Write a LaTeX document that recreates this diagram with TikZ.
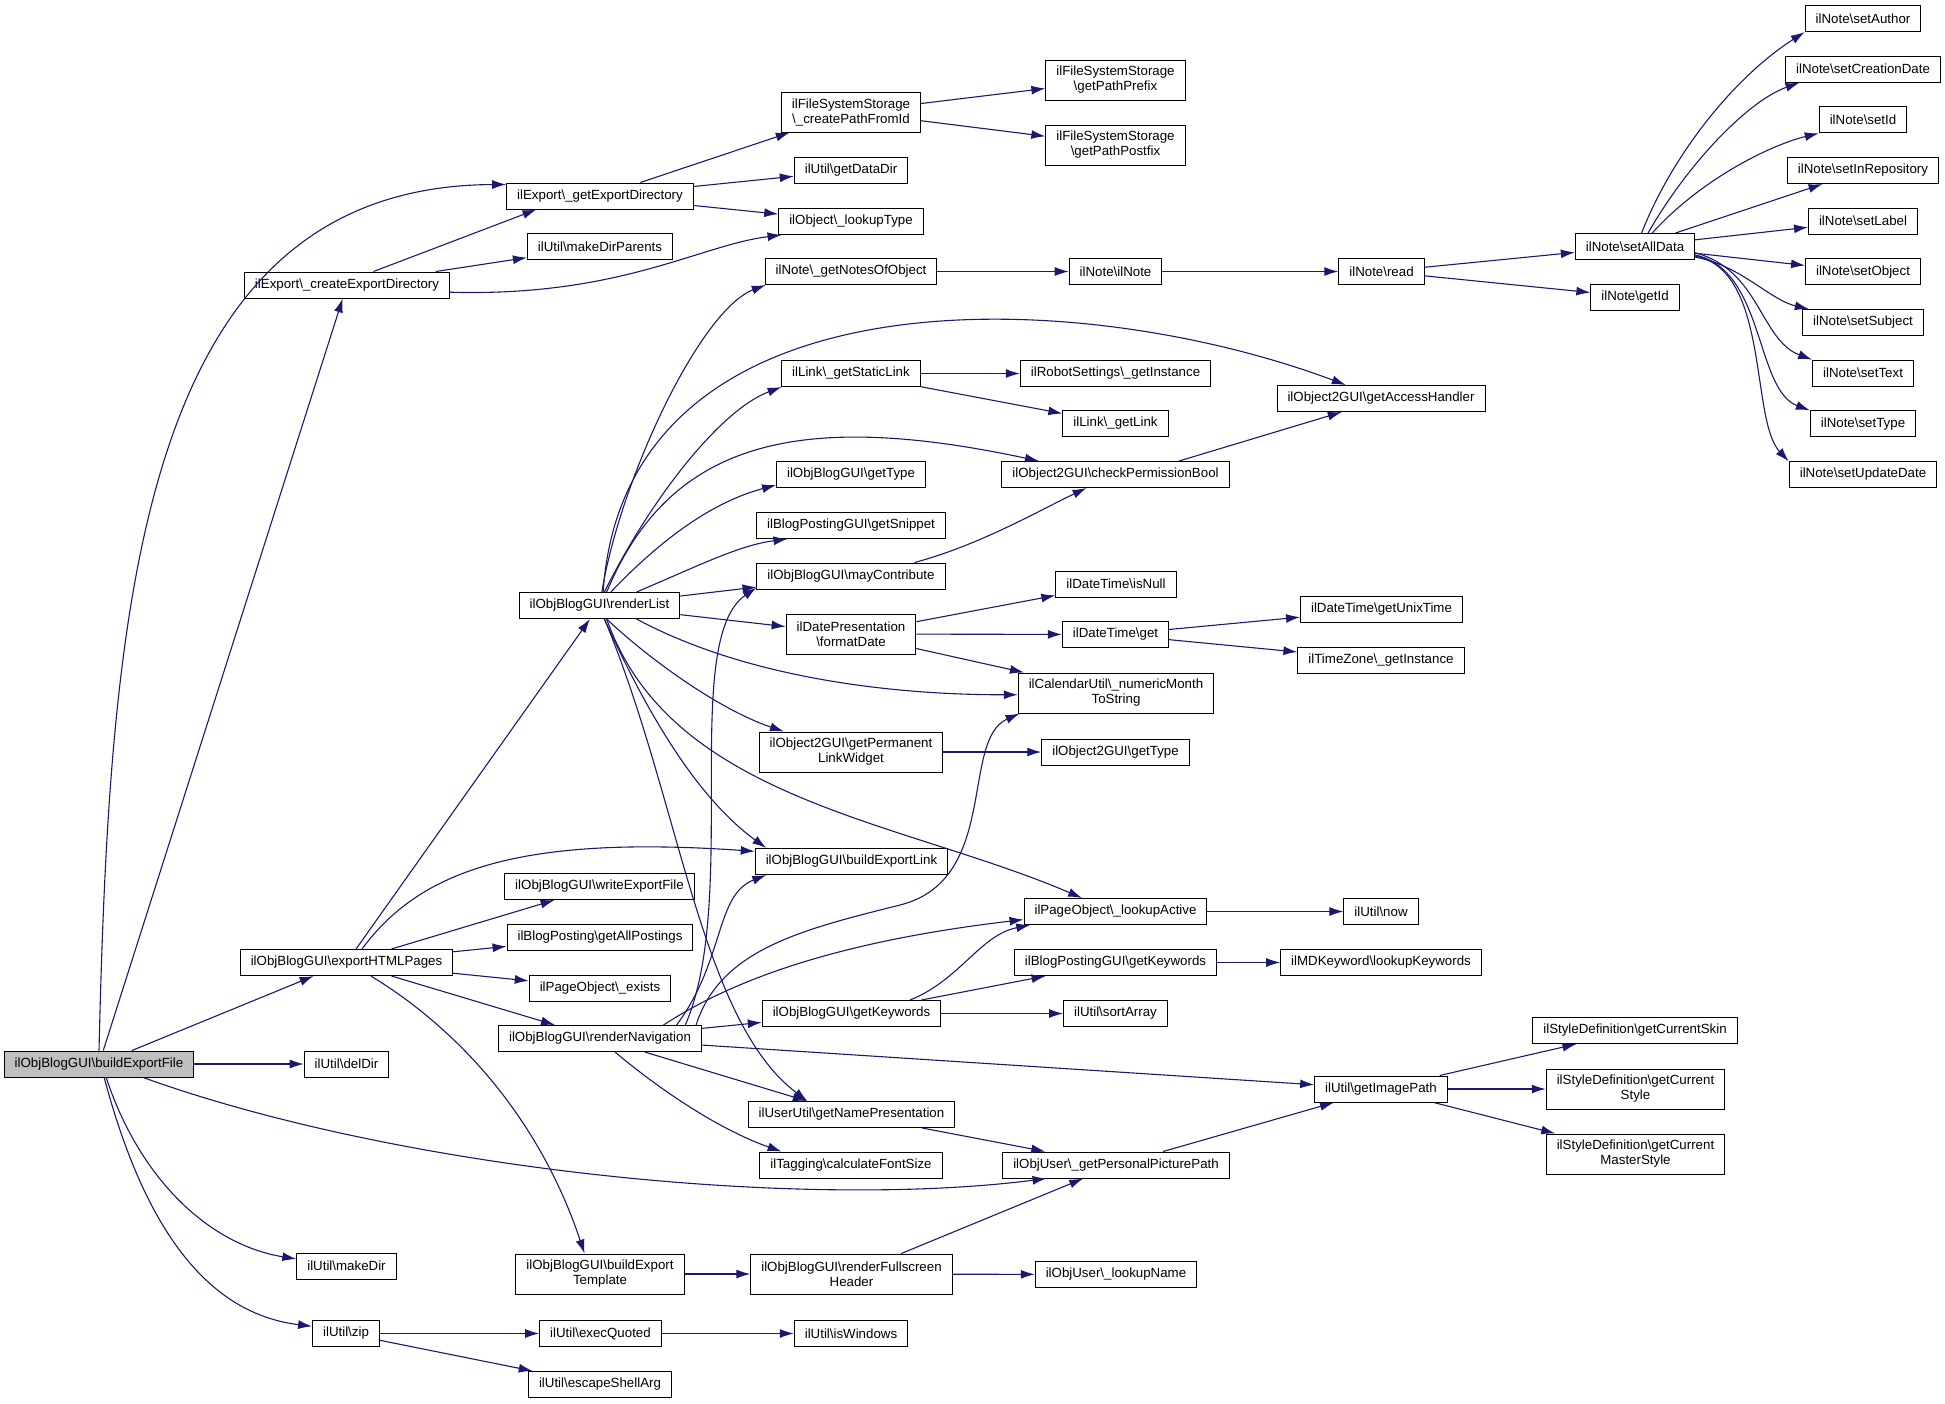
\documentclass[tikz,border=0pt]{standalone}
\usepackage{fontspec}
\setmainfont{Liberation Sans}
\usetikzlibrary{arrows.meta}
\definecolor{edgeblue}{HTML}{191970}
\newcommand{\ns}{\textbackslash}

\begin{document}
\begin{tikzpicture}[x=1pt,y=-1pt,>={Latex[length=14pt,width=9pt]}]
        \tikzstyle{fn}=[rectangle, draw=black, line width=1pt, fill=white, font=\fontsize{13.3}{15}\selectfont, inner xsep=10.5pt, inner ysep=3pt, minimum height=26pt, align=center]
        \tikzstyle{fntwo}=[fn, minimum height=40pt]
        \tikzstyle{root}=[fn, fill=black!25]
        \tikzstyle{call}=[->, draw=edgeblue, line width=1.1pt]
        \useasboundingbox (0,0) rectangle (1945,1403);
        % column 1 and 2
        \node[root] (bef) at (99,1064) {ilObjBlogGUI\ns buildExportFile};
        \node[fn] (ced) at (347,285) {ilExport\ns\_createExportDirectory};
        \node[fn] (ehp) at (346.5,962.5) {ilObjBlogGUI\ns exportHTMLPages};
        \node[fn] (dd) at (346.5,1064) {ilUtil\ns delDir};
        \node[fn] (md) at (346.5,1266) {ilUtil\ns makeDir};
        \node[fn] (zip) at (346,1333.5) {ilUtil\ns zip};
        % column 3
        \node[fn] (ged) at (600,196) {ilExport\ns\_getExportDirectory};
        \node[fn] (mdp) at (600,246.5) {ilUtil\ns makeDirParents};
        \node[fn] (rl) at (599.5,605.5) {ilObjBlogGUI\ns renderList};
        \node[fn] (wef) at (599.5,886.5) {ilObjBlogGUI\ns writeExportFile};
        \node[fn] (gap) at (600,937) {ilBlogPosting\ns getAllPostings};
        \node[fn] (ex) at (600,988) {ilPageObject\ns\_exists};
        \node[fn] (rn) at (600,1038.5) {ilObjBlogGUI\ns renderNavigation};
        \node[fntwo] (bet) at (600,1274) {ilObjBlogGUI\ns buildExport\\Template};
        \node[fn] (eq) at (600.5,1333.5) {ilUtil\ns execQuoted};
        \node[fn] (esa) at (600,1384.5) {ilUtil\ns escapeShellArg};
        % column 4
        \node[fntwo] (cpf) at (851,112) {ilFileSystemStorage\\\ns\_createPathFromId};
        \node[fn] (gdd) at (851,170.5) {ilUtil\ns getDataDir};
        \node[fn] (lt) at (851,221.5) {ilObject\ns\_lookupType};
        \node[fn] (gno) at (851,271.5) {ilNote\ns\_getNotesOfObject};
        \node[fn] (gsl) at (851,373.5) {ilLink\ns\_getStaticLink};
        \node[fn] (gt) at (851,474.5) {ilObjBlogGUI\ns getType};
        \node[fn] (gs) at (851,525.5) {ilBlogPostingGUI\ns getSnippet};
        \node[fn] (mc) at (851,576) {ilObjBlogGUI\ns mayContribute};
        \node[fntwo] (fd) at (851,634) {ilDatePresentation\\\ns formatDate};
        \node[fntwo] (plw) at (851,752) {ilObject2GUI\ns getPermanent\\LinkWidget};
        \node[fn] (bel) at (851.5,861.5) {ilObjBlogGUI\ns buildExportLink};
        \node[fn] (gk) at (851.5,1013.5) {ilObjBlogGUI\ns getKeywords};
        \node[fn] (gnp) at (851.5,1114.5) {ilUserUtil\ns getNamePresentation};
        \node[fn] (tfs) at (851,1165) {ilTagging\ns calculateFontSize};
        \node[fntwo] (rfh) at (851.5,1274) {ilObjBlogGUI\ns renderFullscreen\\Header};
        \node[fn] (iw) at (851,1333.5) {ilUtil\ns isWindows};
        % column 5
        \node[fntwo] (gpp) at (1115.5,80) {ilFileSystemStorage\\\ns getPathPrefix};
        \node[fntwo] (gpx) at (1115.5,145) {ilFileSystemStorage\\\ns getPathPostfix};
        \node[fn] (note) at (1115.5,271.5) {ilNote\ns ilNote};
        \node[fn] (rsi) at (1115.5,373.5) {ilRobotSettings\ns\_getInstance};
        \node[fn] (gl) at (1115.5,423.5) {ilLink\ns\_getLink};
        \node[fn] (cpb) at (1115.5,474.5) {ilObject2GUI\ns checkPermissionBool};
        \node[fn] (isn) at (1116,584) {ilDateTime\ns isNull};
        \node[fn] (dtg) at (1115.5,634.5) {ilDateTime\ns get};
        \node[fntwo] (nms) at (1116,693) {ilCalendarUtil\ns\_numericMonth\\ToString};
        \node[fn] (o2t) at (1115.5,752) {ilObject2GUI\ns getType};
        \node[fn] (la) at (1115.5,911.5) {ilPageObject\ns\_lookupActive};
        \node[fn] (bpk) at (1115.5,962.5) {ilBlogPostingGUI\ns getKeywords};
        \node[fn] (sa) at (1115.5,1013.5) {ilUtil\ns sortArray};
        \node[fn] (ppp) at (1116,1165) {ilObjUser\ns\_getPersonalPicturePath};
        \node[fn] (ln) at (1116,1274.5) {ilObjUser\ns\_lookupName};
        % column 6
        \node[fn] (read) at (1381.5,271.5) {ilNote\ns read};
        \node[fn] (gah) at (1381,398.5) {ilObject2GUI\ns getAccessHandler};
        \node[fn] (ut) at (1381.5,609.5) {ilDateTime\ns getUnixTime};
        \node[fn] (tzi) at (1381,660) {ilTimeZone\ns\_getInstance};
        \node[fn] (now) at (1381,911.5) {ilUtil\ns now};
        \node[fn] (lk) at (1381,962.5) {ilMDKeyword\ns lookupKeywords};
        \node[fn] (gip) at (1381,1089) {ilUtil\ns getImagePath};
        % column 7 and 8
        \node[fn] (sad) at (1635,246.5) {ilNote\ns setAllData};
        \node[fn] (gid) at (1635,297) {ilNote\ns getId};
        \node[fn] (gcs) at (1635,1030.5) {ilStyleDefinition\ns getCurrentSkin};
        \node[fntwo] (gcst) at (1635.5,1089) {ilStyleDefinition\ns getCurrent\\Style};
        \node[fntwo] (gcm) at (1635.5,1154) {ilStyleDefinition\ns getCurrent\\MasterStyle};
        \foreach \s [count=\i from 0] in {Author,CreationDate,Id,InRepository,Label,Object,Subject,Text,Type,UpdateDate}
            \node[fn] (set\s) at (1863,{18.5+50.67*\i}) {ilNote\ns set\s};
        \coordinate (nmsvia) at (900,905);
        % calls of buildExportFile
        \draw[call] (bef.north) .. controls (110,600) and (140,186) .. (ged.173);
        \draw[call] (bef) -- (ced);
        \draw[call] (bef) -- (ehp);
        \draw[call] (bef) -- (dd);
        \draw[call] (bef.-62) .. controls (140,1180) and (210,1245) .. (md.172);
        \draw[call] (bef.-69) .. controls (150,1250) and (220,1315) .. (zip.168);
        \draw[call] (bef.-17) .. controls (400,1170) and (800,1210) .. (ppp.191);
        % export directory
        \draw[call] (ced.27) -- (ged.192);
        \draw[call] (ced) -- (mdp);
        \draw[call] (ced.-4) .. controls (620,297) and (700,245) .. (lt.191);
        \draw[call] (ged) -- (cpf);
        \draw[call] (ged) -- (gdd);
        \draw[call] (ged) -- (lt);
        \draw[call] (cpf) -- (gpp);
        \draw[call] (cpf) -- (gpx);
        % exportHTMLPages
        \draw[call] (ehp) -- (rl);
        \draw[call] (ehp.41) .. controls (420,870) and (520,835) .. (bel.174);
        \draw[call] (ehp) -- (wef);
        \draw[call] (ehp) -- (gap);
        \draw[call] (ehp) -- (ex);
        \draw[call] (ehp) -- (rn);
        \draw[call] (ehp.-29) .. controls (460,1030) and (540,1120) .. (bet.127);
        % renderList
        \draw[call] (rl.80) .. controls (620,480) and (700,310) .. (gno.189);
        \draw[call] (rl.75) .. controls (625,265) and (1080,285) .. (gah.159);
        \draw[call] (rl.70) .. controls (650,500) and (720,410) .. (gsl.191);
        \draw[call] (rl.62) .. controls (670,440) and (800,410) .. (cpb.170);
        \draw[call] (rl.50) .. controls (670,530) and (720,500) .. (gt.188);
        \draw[call] (rl.20) .. controls (700,565) and (740,545) .. (gs.192);
        \draw[call] (rl) -- (mc);
        \draw[call] (rl) -- (fd);
        \draw[call] (rl.-20) .. controls (750,680) and (900,695) .. (nms.181);
        \draw[call] (rl.-62) .. controls (650,660) and (720,710) .. (plw.163);
        \draw[call] (rl.-70) .. controls (650,720) and (700,800) .. (bel.171);
        \draw[call] (rl.-62) .. controls (670,800) and (900,820) .. (la.158);
        \draw[call] (rl.-70) .. controls (680,800) and (700,1020) .. (gnp.163);
        \draw[call] (mc.12) .. controls (980,545) and (1040,510) .. (cpb.205);
        \draw[call] (cpb.12) -- (gah.199);
        \draw[call] (gno) -- (note);
        \draw[call] (note) -- (read);
        \draw[call] (read) -- (sad);
        \draw[call] (read) -- (gid);
        \draw[call] (gsl) -- (rsi);
        \draw[call] (gsl) -- (gl);
        \draw[call] (fd) -- (isn);
        \draw[call] (fd) -- (dtg);
        \draw[call] (fd) -- (nms);
        \draw[call] (dtg) -- (ut);
        \draw[call] (dtg) -- (tzi);
        \draw[call] (plw) -- (o2t);
        % renderNavigation
        \draw[call] (rn.9) .. controls (740,900) and (680,640) .. (mc.187);
        \draw[call] (rn.10) .. controls (725,960) and (715,895) .. (bel.189);
        \draw[call] (rn.8) .. controls (720,950) and (800,930) .. (nmsvia) .. controls (1000,880) and (960,740) .. (nms.192);
        \draw[call] (rn.12) .. controls (740,975) and (850,940) .. (la.185);
        \draw[call] (rn) -- (gk);
        \draw[call] (rn) -- (gip);
        \draw[call] (rn) -- (gnp);
        \draw[call] (rn.-42) .. controls (660,1090) and (720,1130) .. (tfs.169);
        \draw[call] (gk.13) .. controls (960,980) and (980,935) .. (la.189);
        \draw[call] (gk) -- (bpk);
        \draw[call] (gk) -- (sa);
        \draw[call] (bpk) -- (lk);
        \draw[call] (la) -- (now);
        \draw[call] (gnp) -- (ppp);
        \draw[call] (ppp) -- (gip);
        \draw[call] (gip) -- (gcs);
        \draw[call] (gip) -- (gcst);
        \draw[call] (gip) -- (gcm);
        \draw[call] (bet) -- (rfh);
        \draw[call] (rfh) -- (ppp);
        \draw[call] (rfh) -- (ln);
        \draw[call] (zip) -- (eq);
        \draw[call] (zip) -- (esa);
        \draw[call] (eq) -- (iw);
        % setAllData
        \draw[call] (sad.64) .. controls (1670,160) and (1730,80) .. (setAuthor.south west);
        \draw[call] (sad.46) .. controls (1690,160) and (1750,100) .. (setCreationDate.192);
        \draw[call] (sad.38) .. controls (1700,180) and (1770,145) .. (setId.south west);
        \draw[call] (sad) -- (setInRepository);
        \draw[call] (sad) -- (setLabel);
        \draw[call] (sad) -- (setObject);
        \draw[call] (sad.-10) .. controls (1740,265) and (1770,300) .. (setSubject.166);
        \draw[call] (sad.-6) .. controls (1760,270) and (1760,340) .. (setText.north west);
        \draw[call] (sad.-8) .. controls (1765,270) and (1755,390) .. (setType.north west);
        \draw[call] (sad.-9) .. controls (1770,270) and (1750,420) .. (setUpdateDate.170);
    \end{tikzpicture}
\end{document}
